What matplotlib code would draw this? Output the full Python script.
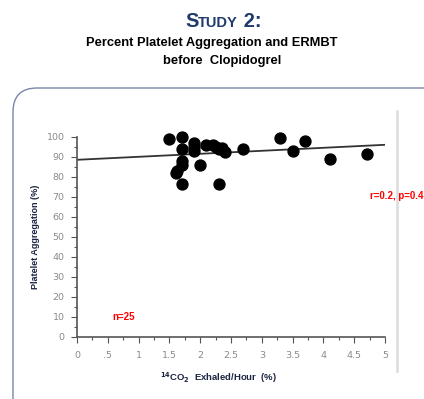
import numpy as np
import matplotlib
matplotlib.use('Agg')
import matplotlib.pyplot as plt
from matplotlib.patches import FancyBboxPatch
from matplotlib.ticker import MultipleLocator

# 14CO2 exhaled/hour (%) vs platelet aggregation (%), n=25
co2_exhaled = [1.5, 1.7, 1.7, 1.7, 1.6, 1.7, 1.9, 1.9, 2.0, 2.1, 2.2, 2.25, 2.3,
               2.4, 2.3, 2.7, 3.3, 3.7, 3.5, 4.1, 4.7, 1.7, 1.9, 2.35, 1.62]
aggregation = [99, 100, 94, 86, 82, 76.5, 97, 93, 86, 96, 96, 95, 94,
               92.5, 76.5, 94, 99.5, 98, 93, 89, 91.5, 88, 95, 94.5, 83]
fit_intercept = 88.6
fit_slope = 1.5
x_ticks = [0, 0.5, 1, 1.5, 2, 2.5, 3, 3.5, 4, 4.5, 5]
x_tick_labels = ['0', '.5', '1', '1.5', '2', '2.5', '3', '3.5', '4', '4.5', '5']
y_ticks = list(range(0, 101, 10))

W, H = 424, 399
fig = plt.figure(figsize=(W / 100, H / 100), dpi=100)

# background layer in pixel units for the rounded frame and divider
bg = fig.add_axes([0, 0, 1, 1])
bg.set_xlim(0, W)
bg.set_ylim(H, 0)
bg.axis('off')
bg.add_patch(FancyBboxPatch((13, 88), 440, 340, boxstyle='round,pad=0,rounding_size=24',
                            fc='none', ec='#7a86a8', lw=1.0))
bg.plot([397, 397], [111, 371], color='#dcdcdc', lw=1.8)

# small-caps title "STUDY 2:" built from pieces placed one after another
navy = '#1f3a6b'
renderer = fig.canvas.get_renderer()
x_px = 185
for piece, size in [('S', 14.5), ('TUDY', 10.5), (' 2:', 14.5)]:
    t = fig.text(x_px / W, 1 - 27 / H, piece, fontsize=size, fontweight='bold', color=navy,
                 ha='left', va='baseline', family='Liberation Sans')
    x_px += t.get_window_extent(renderer).width

fig.text(212 / W, 1 - 43 / H, 'Percent Platelet Aggregation and ERMBT', fontsize=9.3,
         fontweight='bold', ha='center', va='center', family='Liberation Sans')
fig.text(222 / W, 1 - 61 / H, 'before  Clopidogrel', fontsize=9.3,
         fontweight='bold', ha='center', va='center', family='Liberation Sans')

ax = fig.add_axes([77 / W, 1 - 337 / H, 308 / W, 200 / H])
ax.set_xlim(0, 5)
ax.set_ylim(0, 100)
for s in ['top', 'right']:
    ax.spines[s].set_visible(False)
for s in ['left', 'bottom']:
    ax.spines[s].set_color('#555555')
    ax.spines[s].set_linewidth(1.2)

ax.set_xticks(x_ticks)
ax.set_xticklabels(x_tick_labels)
ax.set_yticks(y_ticks)
ax.xaxis.set_minor_locator(MultipleLocator(0.25))
ax.yaxis.set_minor_locator(MultipleLocator(5))
ax.tick_params(which='both', direction='out', color='#555555', labelcolor='#8a8a8a',
               labelsize=6.8, width=0.8)
ax.tick_params(which='major', length=4)
ax.tick_params(which='minor', length=2)
ax.tick_params(axis='x', pad=6)
ax.tick_params(axis='y', pad=5)

xs = np.array([0, 5])
ax.plot(xs, fit_intercept + fit_slope * xs, color='#333333', lw=1.3, zorder=2)
ax.scatter(co2_exhaled, aggregation, s=62, color='black', zorder=3, clip_on=False)

ax.text(0.58, 10, 'n=25', color='red', fontsize=7, fontweight='bold',
        va='center', ha='left', family='Liberation Sans')
fig.text(423 / W, 1 - 196 / H, 'r=0.2, p=0.4', color='red', fontsize=7,
         fontweight='bold', ha='right', va='center', family='Liberation Sans')

fig.text(36 / W, 1 - 237 / H, 'Platelet Aggregation (%)', rotation=90, fontsize=6.5,
         fontweight='bold', color='#1a2440', ha='center', va='center', family='Liberation Sans')
fig.text(218 / W, 1 - 378 / H, r'$^{\mathbf{14}}$CO$_{\mathbf{2}}$  Exhaled/Hour  (%)',
         fontsize=6.8, fontweight='bold', color='#1a2440', ha='center', va='center',
         family='Liberation Sans')

fig.savefig('out.png', dpi=100)
